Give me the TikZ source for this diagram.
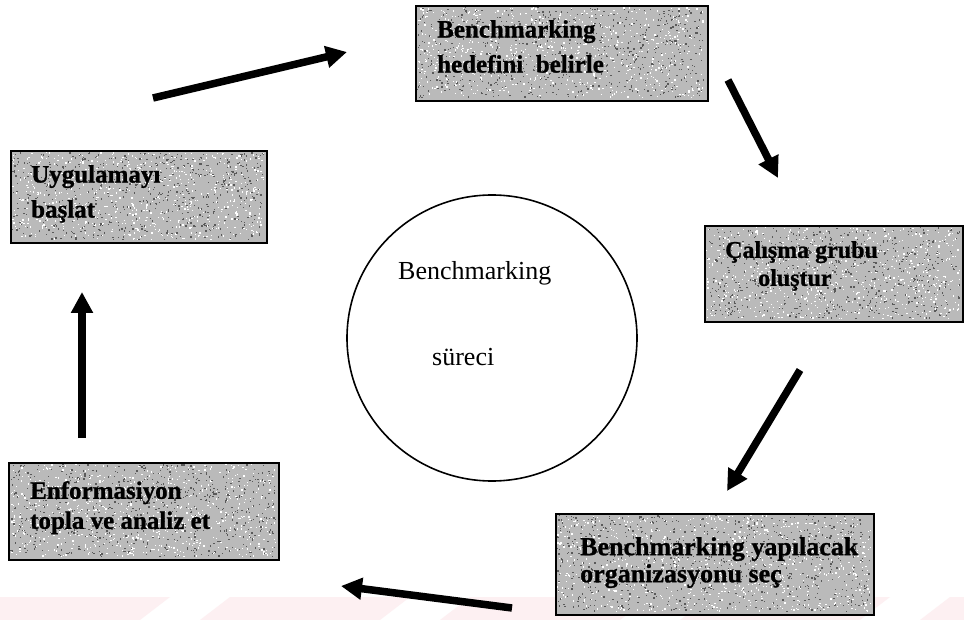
\documentclass[tikz,border=0pt]{standalone}
\usepackage{fontspec}
\setmainfont{Liberation Serif}
\newfontfamily\boxfont[BoldFeatures={FakeBold=1}]{Liberation Serif}
\usetikzlibrary{arrows.meta,shapes.geometric}
\definecolor{boxgray}{RGB}{186,186,186}
\definecolor{speckdark}{RGB}{90,90,90}
\definecolor{markpink}{RGB}{253,240,242}
% grain over a box: x, y, width, height, number of dots
\newcommand{\grain}[5]{%
  \foreach \i in {1,...,#5}{%
    \fill[speckdark] ({#1+2+rnd*(#3-5)},{#2+2+rnd*(#4-5)}) rectangle ++(1.3,1.3);
    \fill[white] ({#1+2+rnd*(#3-5)},{#2+2+rnd*(#4-5)}) rectangle ++(1.3,1.3);
  }}
\begin{document}
\begin{tikzpicture}[x=1pt,y=-1pt,
  stepbox/.style={draw=black, line width=2pt, fill=boxgray, inner sep=0pt,
    anchor=north west},
  boxtext/.style={font=\boxfont\bfseries\fontsize{25}{35}\selectfont, align=left,
    inner sep=0pt, anchor=north west},
  centertext/.style={font=\fontsize{26}{30}\selectfont, inner sep=0pt,
    anchor=base west},
  flow/.style={line width=7.5pt, -{Triangle[length=21pt,width=21pt]}}]

% page frame
\useasboundingbox (0,0) rectangle (964,620);
\fill[white] (0,0) rectangle (964,620);
\pgfmathsetseed{11}

% faint band along the bottom edge
\foreach \x in {-40,200,440,680,920}
  \fill[markpink] (\x,620) -- (\x+30,597) -- (\x+210,597) -- (\x+180,620) -- cycle;

% the five steps
\node[stepbox, minimum width=292pt, minimum height=95pt] (goal) at (415,5) {};
\grain{415}{5}{292}{95}{700}
\node[boxtext] (goaltxt) at (437,20) {Benchmarking\\hedefini\ \ belirle};

\node[stepbox, minimum width=258pt, minimum height=96pt] (team) at (704,225) {};
\grain{704}{225}{258}{96}{650}
\node[boxtext, font=\boxfont\bfseries\fontsize{24}{28}\selectfont] (teamtxt) at (725,241)
  {Çalışma grubu\\\hspace*{33pt}oluştur};

\node[stepbox, minimum width=318pt, minimum height=101pt] (partner) at (555,513) {};
\grain{555}{513}{318}{101}{800}
\node[boxtext, font=\boxfont\bfseries\fontsize{26}{27}\selectfont] (partnertxt) at (580,537)
  {Benchmarking yapılacak\\organizasyonu seç};

\node[stepbox, minimum width=270pt, minimum height=97pt] (collect) at (8,462) {};
\grain{8}{462}{270}{97}{700}
\node[boxtext, font=\boxfont\bfseries\fontsize{25}{30}\selectfont] (collecttxt) at (30,481)
  {Enformasiyon\\topla ve analiz et};

\node[stepbox, minimum width=256pt, minimum height=92pt] (apply) at (10,150) {};
\grain{10}{150}{256}{92}{650}
\node[boxtext] (applytxt) at (31,165) {Uygulamayı\\başlat};

% the process in the middle
\node[draw=black, line width=1.6pt, ellipse, minimum width=290pt,
  minimum height=286pt, inner sep=0pt] (process) at (492,338) {};
\node[centertext] (processtxt) at (398,280) {Benchmarking};
\node[centertext] (processtxtb) at (432,365) {süreci};

% arrow ends
\coordinate (a1s) at (153,98);  \coordinate (a1e) at (347,52);
\coordinate (a2s) at (728,80);  \coordinate (a2e) at (778,178);
\coordinate (a3s) at (800,370); \coordinate (a3e) at (727,491);
\coordinate (a4s) at (512,608); \coordinate (a4e) at (341,586);
\coordinate (a5s) at (82,438);  \coordinate (a5e) at (82,292);

\draw[flow] (a1s) -- (a1e);
\draw[flow] (a2s) -- (a2e);
\draw[flow] (a3s) -- (a3e);
\draw[flow] (a4s) -- (a4e);
\draw[flow] (a5s) -- (a5e);
\end{tikzpicture}
\end{document}
